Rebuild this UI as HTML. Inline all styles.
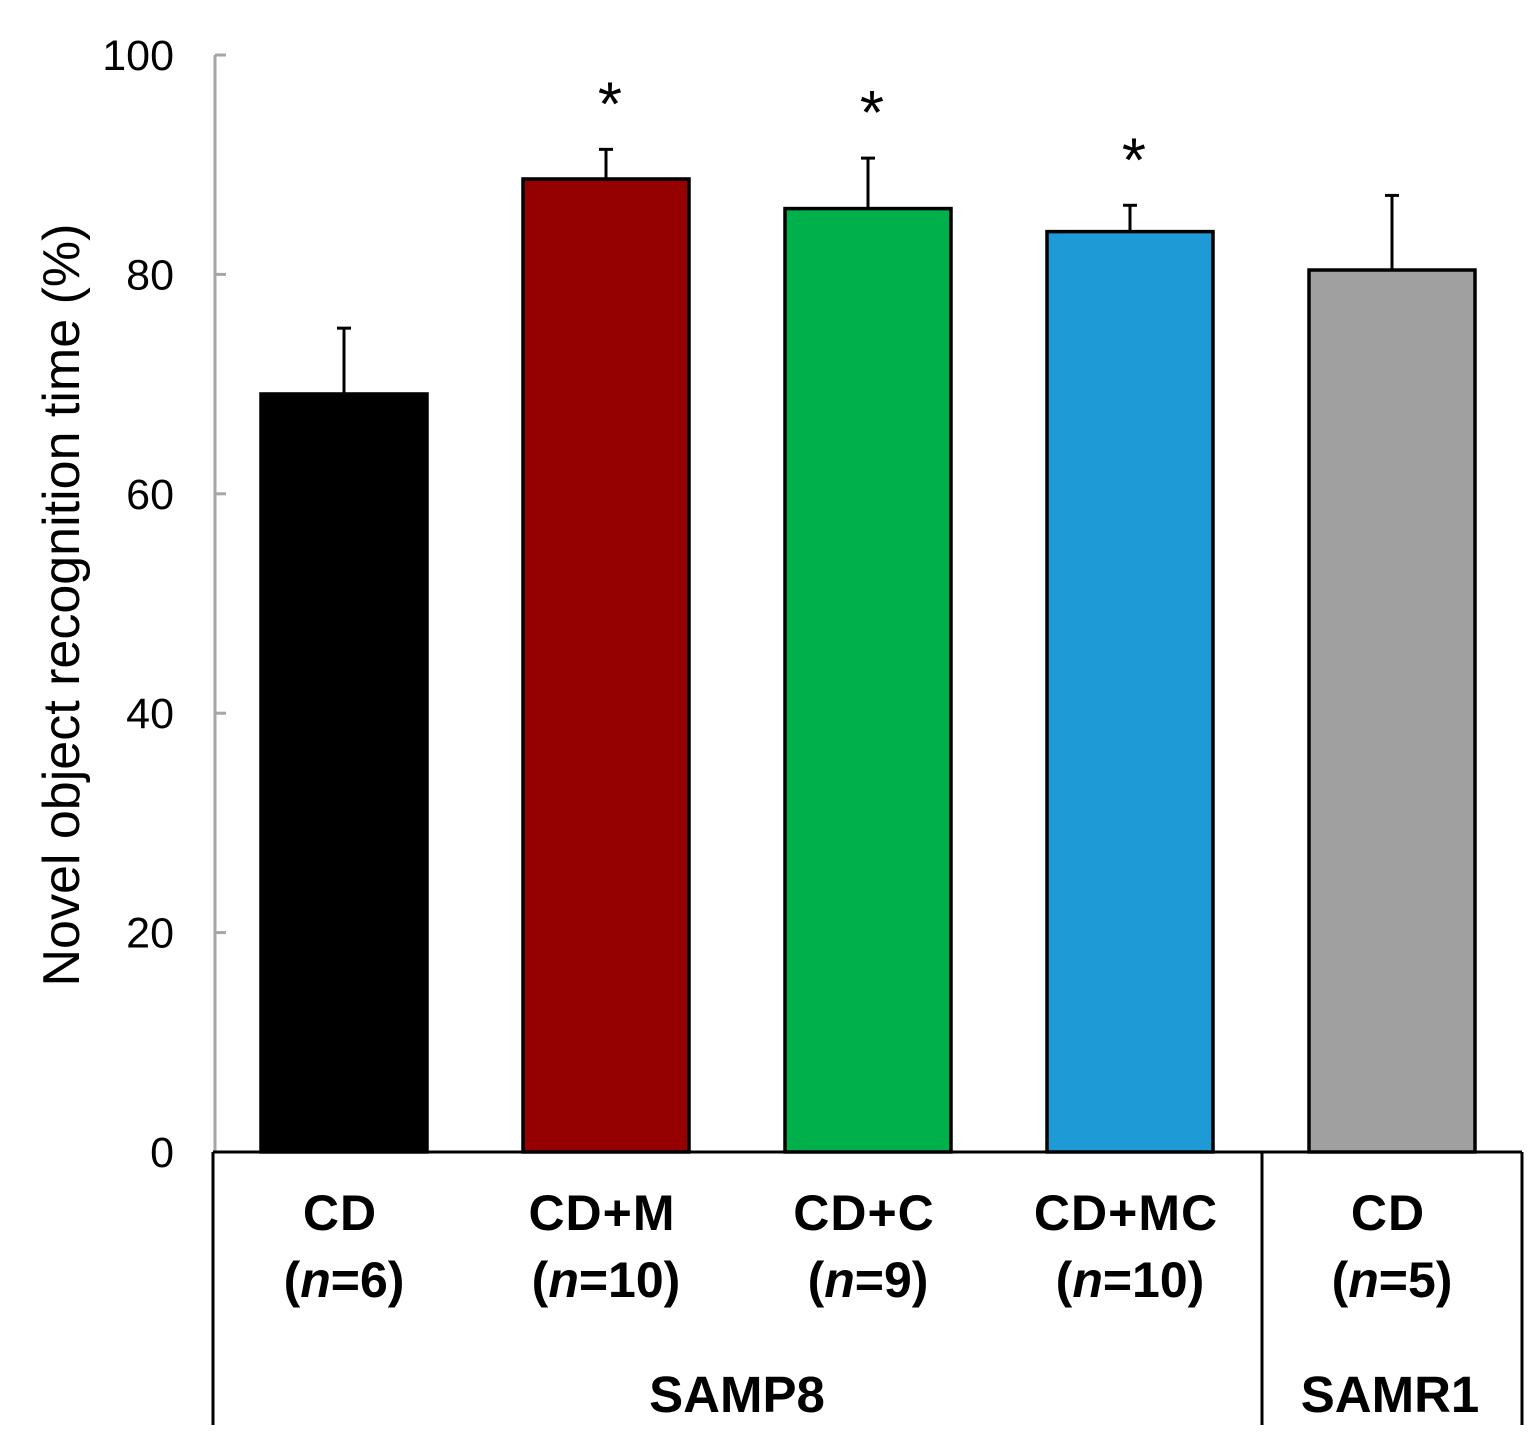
<!DOCTYPE html>
<html><head><meta charset="utf-8"><style>
html,body{margin:0;padding:0;background:#fff;}
svg{display:block;font-family:"Liberation Sans",Arial,sans-serif;}
</style></head><body>
<svg id="chart" width="1538" height="1452" viewBox="0 0 1538 1452"></svg>
<script>
const categories=["CD","CD+M","CD+C","CD+MC","CD"];
const nLabels=["6","10","9","10","5"];
const values=[69.1,88.7,86.0,83.9,80.4];
const errors=[6.0,2.7,4.6,2.4,6.8];
const sig=[false,true,true,true,false];
const colors=["#000000","#950000","#00b04a","#1e9bd7","#a0a0a0"];
const yTicks=[0,20,40,60,80,100];
const NS="http://www.w3.org/2000/svg";
const svg=document.getElementById('chart');
const y0=1152,yTop=55,axisX=215;
const y=v=>y0-(v/100)*(y0-yTop);
const cx=i=>344+i*262;
const bw=166;
function mk(tag,attrs,parent){const e=document.createElementNS(NS,tag);for(const k in attrs)e.setAttribute(k,attrs[k]);(parent||svg).appendChild(e);return e;}
let ax=mk('line',{x1:axisX,y1:yTop,x2:axisX,y2:y0,stroke:'#a6a6a6','stroke-width':3});


yTicks.forEach(t=>{
  let tl=mk('line',{x1:axisX,y1:y(t),x2:axisX+11,y2:y(t),stroke:'#a6a6a6','stroke-width':3});
  
  
  let tx=mk('text',{x:174,y:y(t)+15,'text-anchor':'end','font-size':43});
  tx.textContent=t;
  
  
});
let yt=mk('text',{x:0,y:0,'text-anchor':'middle','font-size':52,transform:'translate(79,605) rotate(-90)'});
yt.textContent='Novel object recognition time (%)';


values.forEach((v,i)=>{
  const x=cx(i);
  let e=mk('line',{x1:x,y1:y(v),x2:x,y2:y(v+errors[i]),stroke:'#000','stroke-width':3});
  
  
  let c=mk('line',{x1:x-7,y1:y(v+errors[i]),x2:x+7,y2:y(v+errors[i]),stroke:'#000','stroke-width':3});
  
  
  let b=mk('rect',{x:x-bw/2,y:y(v),width:bw,height:y0-y(v),fill:colors[i],stroke:'#000','stroke-width':3.5});
  
  
  if(sig[i]){
    let s=mk('text',{x:x+4,y:y(v+errors[i])-24,'text-anchor':'middle','font-size':62});
    s.textContent='*';
    
    
  }
  let l1=mk('text',{x:x-4,y:1230,'text-anchor':'middle','font-size':50,'font-weight':'bold','letter-spacing':1});
  l1.textContent=categories[i];
  
  
  let l2=mk('text',{x:x,y:1297,'text-anchor':'middle','font-size':50,'font-weight':'bold'});
  l2.innerHTML='(<tspan font-style="italic">n</tspan>='+nLabels[i]+')';
  
  
});
[[213,1152,1522,1152],[213,1152,213,1425],[1262,1152,1262,1425],[1522,1152,1522,1425]].forEach(a=>{
  let l=mk('line',{x1:a[0],y1:a[1],x2:a[2],y2:a[3],stroke:'#000','stroke-width':3});
  
  
});
let g1=mk('text',{x:737,y:1412,'text-anchor':'middle','font-size':51,'font-weight':'bold'});
g1.textContent='SAMP8';


let g2=mk('text',{x:1390,y:1412,'text-anchor':'middle','font-size':51,'font-weight':'bold'});
g2.textContent='SAMR1';


</script>
</body></html>
